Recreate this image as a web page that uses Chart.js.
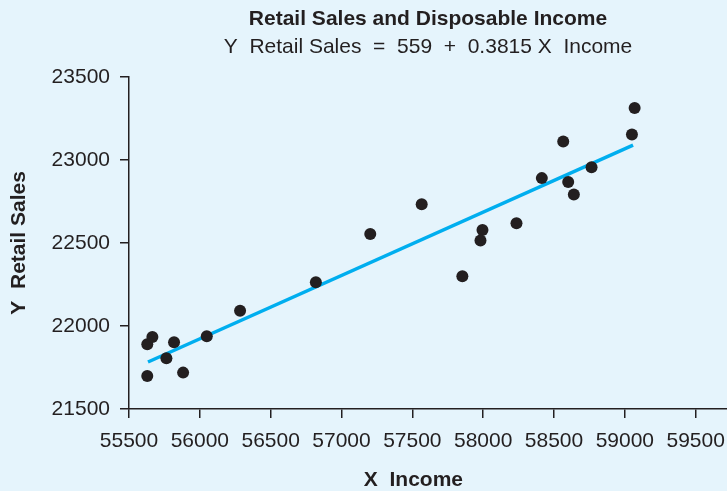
<!DOCTYPE html>
<html>
<head>
<meta charset="utf-8">
<script src="https://cdn.jsdelivr.net/npm/chart.js@4/dist/chart.umd.min.js"></script>
<style>
  html, body { margin: 0; padding: 0; background: #e5f4fc; }
  #wrap { width: 727px; height: 491px; position: relative; }
</style>
</head>
<body>
<div id="wrap"><canvas id="c" width="727" height="491"></canvas></div>
<script>
// Observed data (Income X, Retail Sales Y)
const incomeX = [55629, 55665, 55629, 55764, 55818, 55882, 56049, 56284, 56819, 57203, 57566,
                 57853, 57995, 57981, 58235, 58414, 58565, 58600, 58640, 58765, 59050, 59069];
const salesY  = [21890, 21934, 21699, 21805, 21902, 21719, 21938, 22092, 22263, 22554, 22733,
                 22299, 22578, 22514, 22619, 22890, 23110, 22867, 22791, 22955, 23152, 23312];
// Fitted line endpoints (Y = 559 + 0.3815 X)
const fitX = [55634, 59058];
const fitY = [21783, 23089];
const yTicks = [21500, 22000, 22500, 23000, 23500];
const xTicks = [55500, 56000, 56500, 57000, 57500, 58000, 58500, 59000, 59500];

const INK = '#231f20';
const FONT = "'Liberation Sans', Arial, sans-serif";

const bgPlugin = {
  id: 'bg',
  beforeDraw(chart) {
    const ctx = chart.ctx;
    ctx.save();
    ctx.fillStyle = '#e5f4fc';
    ctx.fillRect(0, 0, chart.width, chart.height);
    ctx.restore();
  }
};

new Chart(document.getElementById('c'), {
  type: 'scatter',
  data: {
    datasets: [
      {
        type: 'line',
        data: fitX.map((x, i) => ({ x: x, y: fitY[i] })),
        borderColor: '#00aeef',
        borderWidth: 3.5,
        pointRadius: 0,
        fill: false,
        order: 2
      },
      {
        data: incomeX.map((x, i) => ({ x: x, y: salesY[i] })),
        backgroundColor: INK,
        borderWidth: 0,
        pointRadius: 6,
        order: 1
      }
    ]
  },
  options: {
    responsive: false,
    animation: false,
    devicePixelRatio: 1,
    layout: { padding: 0, autoPadding: false },
    plugins: {
      legend: { display: false },
      tooltip: { enabled: false },
      title: {
        display: true,
        fullSize: false,
        text: 'Retail Sales and Disposable Income',
        color: INK,
        font: { family: FONT, size: 21, weight: 'bold', lineHeight: 1.2 },
        padding: { top: 7, bottom: 0 }
      },
      subtitle: {
        display: true,
        fullSize: false,
        text: 'Y  Retail Sales  =  559  +  0.3815 X  Income',
        color: INK,
        font: { family: FONT, size: 21, lineHeight: 1.2 },
        padding: { top: 2, bottom: 17.4 }
      }
    },
    scales: {
      x: {
        type: 'linear',
        min: 55500,
        max: 59721,
        afterBuildTicks(scale) {
          scale.ticks = xTicks.map(v => ({ value: v }));
        },
        afterFit(scale) {
          scale.height = 82;
          scale.paddingLeft = 0;
          scale.paddingRight = 0;
        },
        ticks: {
          color: INK,
          font: { family: FONT, size: 21 },
          padding: 11,
          maxRotation: 0,
          autoSkip: false,
          callback: v => String(v)
        },
        grid: { display: true, drawOnChartArea: false, drawTicks: true, tickLength: 9, color: INK, lineWidth: 1.5 },
        border: { display: true, color: INK, width: 1.5 },
        title: {
          display: true,
          text: 'X  Income     ',
          color: INK,
          font: { family: FONT, size: 21, weight: 'bold', lineHeight: 1 },
          padding: 0
        }
      },
      y: {
        type: 'linear',
        min: 21500,
        max: 23500,
        afterBuildTicks(scale) {
          scale.ticks = yTicks.map(v => ({ value: v }));
        },
        afterFit(scale) {
          scale.width = 129;
          scale.paddingTop = 0;
          scale.paddingBottom = 0;
        },
        ticks: {
          color: INK,
          font: { family: FONT, size: 21 },
          padding: 10,
          autoSkip: false,
          callback: v => String(v)
        },
        grid: { display: true, drawOnChartArea: false, drawTicks: true, tickLength: 9, color: INK, lineWidth: 1.5 },
        border: { display: true, color: INK, width: 1.5 },
        title: {
          display: true,
          text: 'Y  Retail Sales',
          color: INK,
          font: { family: FONT, size: 21, weight: 'bold', lineHeight: 1.2 },
          padding: { top: 7, bottom: 0 }
        }
      }
    }
  },
  plugins: [bgPlugin]
});
</script>
</body>
</html>
